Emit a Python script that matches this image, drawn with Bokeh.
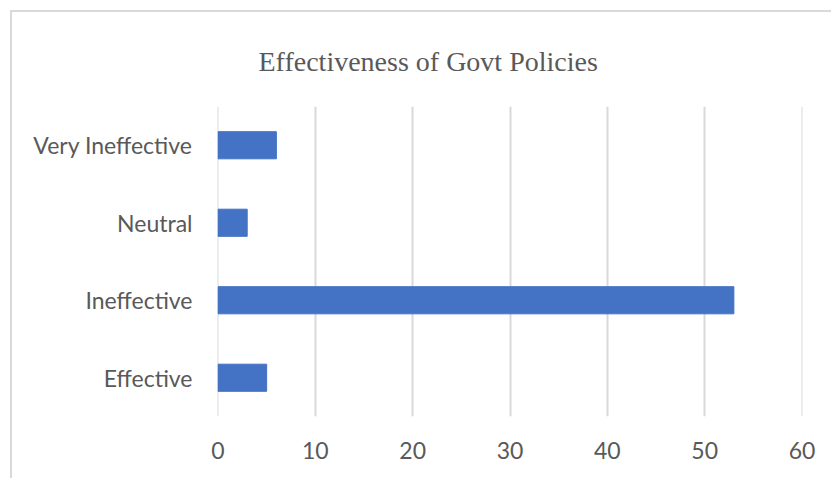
from bokeh.plotting import figure
from bokeh.models import FixedTicker
from bokeh.embed import file_html
from bokeh.resources import INLINE

categories = ["Effective", "Ineffective", "Neutral", "Very Ineffective"]
values = [5, 53, 3, 6]
x_ticks = [0, 10, 20, 30, 40, 50, 60]

p = figure(width=821, height=468, y_range=categories, x_range=(-0.05, 60.05),
           output_backend="svg", toolbar_location=None,
           title="Effectiveness of Govt Policies",
           min_border_left=205, min_border_right=31,
           min_border_top=94, min_border_bottom=64)
p.margin = (10, 0, 0, 10)
p.styles = {"border-top": "2px solid #d9d9d9", "border-left": "2px solid #d9d9d9"}

p.hbar(y=categories, right=values, left=0, height=0.35, color="#4472C4")

p.title.text_font = "Liberation Serif"
p.title.text_font_size = "28px"
p.title.text_font_style = "normal"
p.title.text_color = "#595959"
p.title.align = "left"
p.title.offset = 41
p.title.standoff = 59

p.outline_line_color = None
p.background_fill_color = "white"
p.border_fill_color = "white"

p.xgrid.ticker = FixedTicker(ticks=x_ticks)
p.xgrid.grid_line_color = "#d9d9d9"
p.xgrid.grid_line_width = 2
p.ygrid.grid_line_color = None

p.xaxis.ticker = FixedTicker(ticks=x_ticks)
for ax in (p.xaxis[0], p.yaxis[0]):
    ax.axis_line_color = None
    ax.major_tick_line_color = None
    ax.minor_tick_line_color = None
    ax.major_label_text_font = "Lato"
    ax.major_label_text_font_size = "23px"
    ax.major_label_text_color = "#595959"
p.xaxis.major_label_standoff = 19
p.yaxis.major_label_standoff = 19

open("out.html", "w").write(file_html(p, INLINE))
